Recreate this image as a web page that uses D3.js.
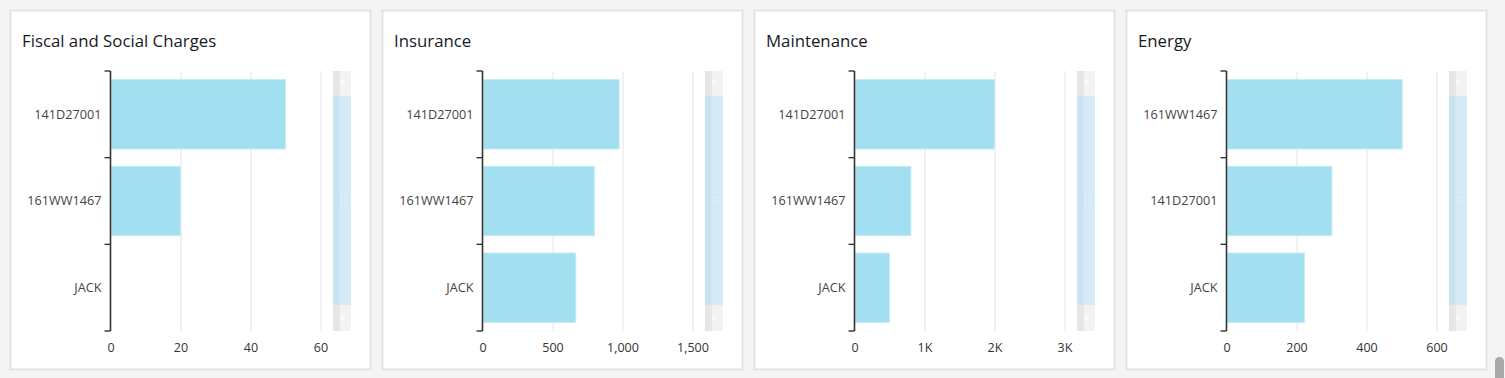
<!DOCTYPE html>
<html>
<head>
<meta charset="utf-8">
<script src="https://cdn.jsdelivr.net/npm/d3@7"></script>
<style>
  html, body { margin: 0; padding: 0; background: #f4f4f4; overflow: hidden; }
  svg { display: block; font-family: "Open Sans", "Noto Sans", sans-serif; }
</style>
</head>
<body>
<div id="graphicContainer"></div>
<script>
// panel titles
var titles = ["Fiscal and Social Charges", "Insurance", "Maintenance", "Energy"]

// categories per panel (top to bottom)
var fiscalCats = ["141D27001", "161WW1467", "JACK"]
var insuranceCats = ["141D27001", "161WW1467", "JACK"]
var maintenanceCats = ["141D27001", "161WW1467", "JACK"]
var energyCats = ["161WW1467", "141D27001", "JACK"]

// values per panel
var fiscalValues = [50, 20, 0]
var insuranceValues = [976, 799, 666]
var maintenanceValues = [2000, 805, 500]
var energyValues = [502, 301, 223]

// axis ticks and their labels
var fiscalTicks = [0, 20, 40, 60]
var fiscalTickLabels = ["0", "20", "40", "60"]
var insuranceTicks = [0, 500, 1000, 1500]
var insuranceTickLabels = ["0", "500", "1,000", "1,500"]
var maintenanceTicks = [0, 1000, 2000, 3000]
var maintenanceTickLabels = ["0", "1K", "2K", "3K"]
var energyTicks = [0, 200, 400, 600]
var energyTickLabels = ["0", "200", "400", "600"]

var panels = [
  { title: titles[0], cats: fiscalCats, values: fiscalValues, ticks: fiscalTicks, labels: fiscalTickLabels },
  { title: titles[1], cats: insuranceCats, values: insuranceValues, ticks: insuranceTicks, labels: insuranceTickLabels },
  { title: titles[2], cats: maintenanceCats, values: maintenanceValues, ticks: maintenanceTicks, labels: maintenanceTickLabels },
  { title: titles[3], cats: energyCats, values: energyValues, ticks: energyTicks, labels: energyTickLabels }
]

var W = 1505, H = 378
var svg = d3.select("#graphicContainer").append("svg")
  .attr("width", W).attr("height", H)

svg.append("rect").attr("width", W).attr("height", H).attr("fill", "#f4f4f4")

var panelW = 360, panelH = 359, pitch = 372
var plotLeft = 100.5, plotTop = 61, plotH = 260, plotW = 210

panels.forEach(function (p, i) {
  var g = svg.append("g").attr("transform", "translate(" + (10 + i * pitch) + ",10)")

  g.append("rect")
    .attr("x", 0.5).attr("y", 0.5)
    .attr("width", panelW).attr("height", panelH)
    .attr("fill", "#fff")
    .attr("stroke", "#e3e3e3")
    .attr("stroke-width", 2)

  g.append("text")
    .attr("x", 12).attr("y", 37)
    .attr("font-size", 16.8)
    .attr("fill", "#16191f")
    .text(p.title)

  var plot = g.append("g").attr("transform", "translate(" + plotLeft + "," + plotTop + ")")

  var x = d3.scaleLinear().domain([0, p.ticks[p.ticks.length - 1]]).range([0, plotW])
  var y = d3.scaleBand().domain(p.cats).range([0, plotH]).paddingInner(0.2).paddingOuter(0.1)

  // gridlines
  plot.selectAll(".grid")
    .data(p.ticks.slice(1))
    .enter().append("line")
    .attr("x1", d => Math.round(x(d)) + 0.5)
    .attr("x2", d => Math.round(x(d)) + 0.5)
    .attr("y1", 0).attr("y2", plotH)
    .attr("stroke", "#e4e4e4")

  // bars
  plot.selectAll(".bar")
    .data(p.cats)
    .enter().append("rect")
    .attr("x", 1)
    .attr("y", d => y(d))
    .attr("width", (d, j) => Math.max(0, x(p.values[j]) - 1))
    .attr("height", y.bandwidth())
    .attr("fill", "#a2dff0")
    .attr("stroke", "#c4ebf6")
    .attr("stroke-width", 1)

  // x tick labels
  plot.selectAll(".xlab")
    .data(p.ticks)
    .enter().append("text")
    .attr("x", d => x(d) + 0.5)
    .attr("y", plotH + 21)
    .attr("text-anchor", "middle")
    .attr("font-size", 12.5)
    .attr("fill", "#333")
    .text((d, j) => p.labels[j])

  // y axis line + band boundary ticks
  var step = plotH / p.cats.length
  var bounds = d3.range(p.cats.length + 1).map(k => k * step)
  plot.append("line")
    .attr("x1", 0).attr("x2", 0)
    .attr("y1", 0).attr("y2", plotH)
    .attr("stroke", "#333").attr("stroke-width", 1.6)
  plot.selectAll(".ytick")
    .data(bounds)
    .enter().append("line")
    .attr("x1", -6).attr("x2", 0)
    .attr("y1", d => d).attr("y2", d => d)
    .attr("stroke", "#333").attr("stroke-width", 1.4)

  plot.selectAll(".ylab")
    .data(p.cats)
    .enter().append("text")
    .attr("x", -9)
    .attr("y", d => y(d) + y.bandwidth() / 2)
    .attr("dy", "0.35em")
    .attr("text-anchor", "end")
    .attr("font-size", 12.7)
    .attr("fill", "#444")
    .text(d => d)

  // mini scroll bar on the right of the plot
  var sb = g.append("g").attr("transform", "translate(" + (plotLeft + 222.5) + "," + plotTop + ")")
  var sbW = 18
  sb.append("rect").attr("width", sbW).attr("height", plotH).attr("fill", "#f3f3f3")
  sb.append("rect").attr("width", 7).attr("height", plotH).attr("fill", "#e6e6e6")
  sb.append("rect").attr("y", 25).attr("width", sbW).attr("height", 209).attr("fill", "#d4eaf6")
  sb.append("rect").attr("y", 25).attr("width", 6).attr("height", 209).attr("fill", "#cbe3f0")
  ;[10, 13, 245, 248].forEach(function (yy) {
    sb.append("line").attr("x1", 7).attr("x2", 12).attr("y1", yy).attr("y2", yy)
      .attr("stroke", "#fff").attr("stroke-width", 1)
  })
  ;[[8, 126], [11, 126], [8, 130], [11, 130]].forEach(function (pt) {
    sb.append("rect").attr("x", pt[0]).attr("y", pt[1]).attr("width", 1).attr("height", 1).attr("fill", "#fff")
  })
})

// page scrollbar thumb
svg.append("rect")
  .attr("x", 1495).attr("y", 357)
  .attr("width", 9).attr("height", 30)
  .attr("rx", 4.5)
  .attr("fill", "#a9a9a9")
</script>
</body>
</html>
